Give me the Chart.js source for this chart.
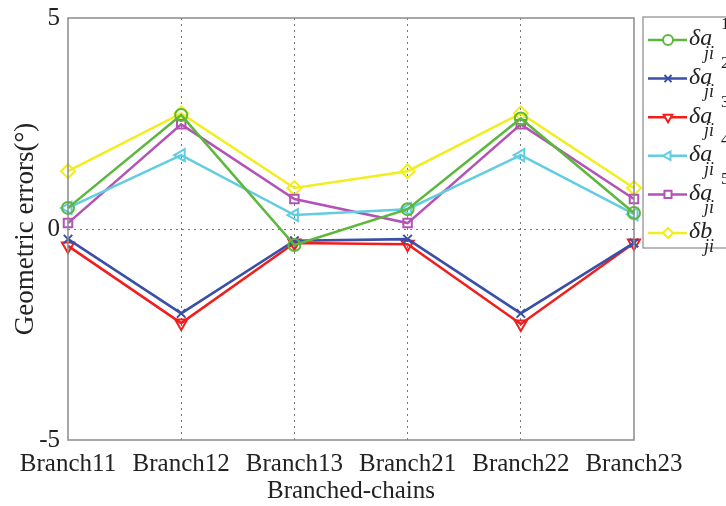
<!DOCTYPE html>
<html>
<head>
<meta charset="utf-8">
<script src="https://cdn.jsdelivr.net/npm/chart.js@4.4.1/dist/chart.umd.min.js"></script>
<style>
  html, body { margin: 0; padding: 0; background: #fff; }
  #wrap { width: 726px; height: 506px; }
</style>
</head>
<body>
<div id="wrap"><canvas id="errChart" width="726" height="506"></canvas></div>
<script>
    // categories and values
    const branches = ["Branch11", "Branch12", "Branch13", "Branch21", "Branch22", "Branch23"];
    const yTicks = [-5, 0, 5];

    const da1 = [0.50, 2.70, -0.38, 0.47, 2.62, 0.38];
    const da2 = [-0.24, -2.00, -0.28, -0.24, -2.00, -0.33];
    const da3 = [-0.40, -2.23, -0.33, -0.36, -2.25, -0.33];
    const da4 = [0.50, 1.75, 0.33, 0.47, 1.75, 0.35];
    const da5 = [0.14, 2.48, 0.71, 0.14, 2.48, 0.71];
    const db = [1.37, 2.74, 0.97, 1.37, 2.74, 0.97];

    const serif = "'Liberation Serif', 'DejaVu Serif', serif";

    function series(label, sup, data, color, style, rot, r) {
      return {
        label: label,
        sup: sup,
        data: data,
        borderColor: color,
        backgroundColor: "rgba(0,0,0,0)",
        borderWidth: 2.5,
        pointStyle: style,
        pointRotation: rot || 0,
        pointRadius: r || 6,
        pointBorderWidth: 2,
        pointBackgroundColor: "rgba(0,0,0,0)",
        tension: 0
      };
    }

    const datasets = [
      series("a", "1", da1, "#5cb83c", "circle"),
      series("a", "2", da2, "#3a4fa6", "crossRot"),
      series("a", "3", da3, "#f21d1d", "triangle", 180, 7),
      series("a", "4", da4, "#62cde0", "triangle", -90, 7),
      series("a", "5", da5, "#b353b5", "rect"),
      series("b", "", db, "#f2ee1e", "rectRot", 0, 7)
    ];

    // box round the plot + matlab-like legend
    const boxAndLegend = {
      id: "boxAndLegend",
      afterDatasetsDraw(chart) {
        const ctx = chart.ctx;
        const a = chart.chartArea;
        ctx.save();
        ctx.strokeStyle = "#8a8a8a";
        ctx.lineWidth = 1.5;
        ctx.strokeRect(a.left, a.top, a.right - a.left, a.bottom - a.top);

        // legend box
        const lx = 643, ly = 17, lh = 231;
        ctx.fillStyle = "#fff";
        ctx.fillRect(lx, ly, 100, lh);
        ctx.strokeStyle = "#8a8a8a";
        ctx.lineWidth = 1.2;
        ctx.strokeRect(lx, ly, 100, lh);

        chart.data.datasets.forEach((ds, i) => {
          const y = 40 + i * 38.6;
          ctx.strokeStyle = ds.borderColor;
          ctx.lineWidth = 2.5;
          ctx.beginPath();
          ctx.moveTo(648, y);
          ctx.lineTo(687, y);
          ctx.stroke();
          ctx.lineWidth = 2;
          ctx.fillStyle = "#fff";
          Chart.helpers.drawPoint(ctx, {
            pointStyle: ds.pointStyle,
            rotation: ds.pointRotation,
            radius: 5,
            borderWidth: 2
          }, 668, y);

          ctx.fillStyle = "#222";
          ctx.textBaseline = "middle";
          ctx.font = "italic 24px " + serif;
          ctx.fillText("\u03b4" + ds.label, 689, y - 1);
          ctx.font = "italic 18px " + serif;
          ctx.fillText("ji", 704, y + 14);
          ctx.font = "17px " + serif;
          if (ds.sup) ctx.fillText(ds.sup, 721, y - 15);
        });
        ctx.restore();
      }
    };

    const ctx = document.getElementById("errChart").getContext("2d");

    const chart = new Chart(ctx, {
      type: "line",
      data: {
        labels: branches,
        datasets: datasets
      },
      options: {
        responsive: false,
        animation: false,
        layout: {
          padding: { top: 17, right: 92, left: 0, bottom: 0 }
        },
        scales: {
          x: {
            offset: false,
            grid: {
              drawTicks: false,
              lineWidth: 1,
              color: (c) => (c.index === 0 || c.index === branches.length - 1) ? "rgba(0,0,0,0)" : "#777"
            },
            border: { display: false, dash: [2, 4] },
            ticks: {
              color: "#222",
              padding: 9,
              maxRotation: 0,
              font: { family: serif, size: 25 }
            },
            title: {
              display: true,
              text: "Branched-chains",
              color: "#222",
              padding: { top: 0, bottom: 0 },
              font: { family: serif, size: 25 }
            },
            afterFit: (scale) => { scale.height = 66; }
          },
          y: {
            min: -5,
            max: 5,
            afterBuildTicks: (scale) => {
              scale.ticks = yTicks.map(v => ({ value: v }));
            },
            grid: {
              drawTicks: false,
              lineWidth: 1,
              color: (c) => (c.tick && c.tick.value === 0) ? "#777" : "rgba(0,0,0,0)"
            },
            border: { display: false, dash: [2, 4] },
            ticks: {
              color: "#222",
              padding: 8,
              font: { family: serif, size: 25, lineHeight: 0.8 }
            },
            title: {
              display: true,
              text: "Geometric errors(\u00b0)",
              color: "#222",
              padding: { top: 10, bottom: 0 },
              font: { family: serif, size: 27 }
            },
            afterFit: (scale) => { scale.width = 68; }
          }
        },
        plugins: {
          legend: { display: false },
          tooltip: { enabled: false }
        }
      },
      plugins: [boxAndLegend]
    });
</script>
</body>
</html>
